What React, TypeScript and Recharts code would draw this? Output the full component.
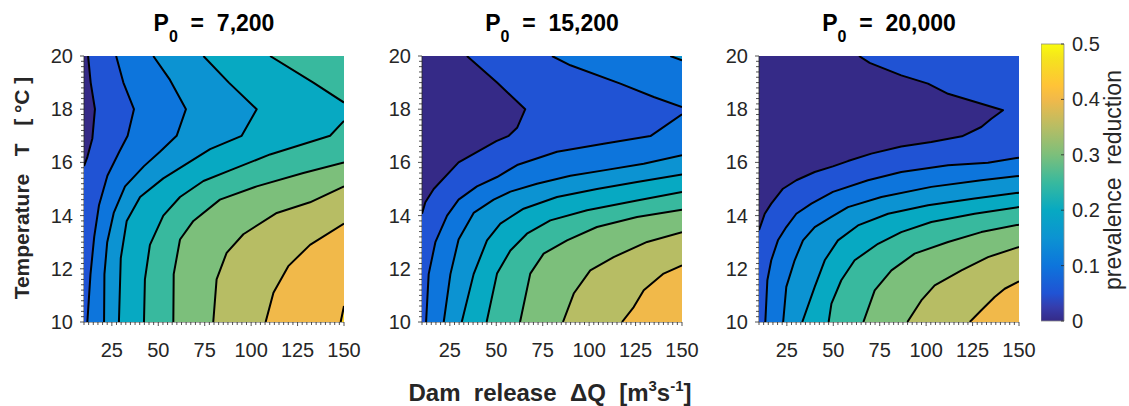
import { ScatterChart, Scatter, XAxis, YAxis, CartesianGrid, BarChart, Bar } from 'recharts'

// contour levels 0, 0.05 ... 0.45 and the parula colour of each filled band
const LEVELS = [0, 0.05, 0.1, 0.15, 0.2, 0.25, 0.3, 0.35, 0.4, 0.45]
const BAND_COLORS = ['#352a87', '#2053d4', '#0d75dc', '#0c93d2', '#07a9c2', '#38b99e', '#7cbf7b', '#b7bd64', '#f1b94a', '#fad32a']
const PARULA_STOPS = [
  ['0', '#352a87'], ['0.05', '#353dad'], ['0.1', '#2053d4'], ['0.2', '#0d75dc'], ['0.3', '#0c93d2'],
  ['0.4', '#07a9c2'], ['0.5', '#38b99e'], ['0.6', '#7cbf7b'], ['0.7', '#b7bd64'], ['0.8', '#f1b94a'],
  ['0.85', '#ffc337'], ['0.9', '#fad32a'], ['0.95', '#f5e41d'], ['1', '#f9fb0e'],
]

const TITLES = ['7,200', '15,200', '20,000']
const X_TICKS = [25, 50, 75, 100, 125, 150]
const Y_TICKS = [10, 12, 14, 16, 18, 20]
const CB_TICKS = [0, 0.1, 0.2, 0.3, 0.4, 0.5]
const X_DOMAIN = [10, 150]
const Y_DOMAIN = [10, 20]

// minor ticks (MATLAB style)
const X_MINOR = Array.from({ length: 57 }, (_, i) => 10 + i * 2.5)
const Y_MINOR = Array.from({ length: 51 }, (_, i) => Math.round((10 + i * 0.2) * 10) / 10)

type Piece = { lv: number; pts: number[][] }

// contour lines: [dam release ΔQ, temperature T]
// every line is ordered so that the higher values lie on its left
const P1_PIECES: Piece[] = [
  { lv: 1, pts: [[12.2, 20], [13.6, 19], [15.9, 18], [14.5, 16.9], [11.8, 16.2], [10, 15.86]] },
  { lv: 2, pts: [[27.3, 20], [31.2, 19], [36.9, 18], [33.5, 17], [29, 16.4], [22.6, 15.5], [18.1, 14.4], [15.5, 13.2], [13.5, 11.8], [11.8, 10]] },
  { lv: 3, pts: [[47.3, 20], [56.3, 19.1], [64.9, 18], [59.9, 17], [50.9, 16.4], [42.3, 15.86], [32.1, 15.1], [26, 14.1], [22.5, 13], [21, 11.8], [20.8, 10]] },
  { lv: 4, pts: [[74.3, 20], [88, 19], [103, 18], [94.9, 17], [77.9, 16.5], [52.7, 15.4], [40.2, 14.7], [33, 13.8], [29.8, 12.4], [28.8, 10]] },
  { lv: 5, pts: [[110.2, 20], [133.5, 19], [150, 18.25]] },
  { lv: 5, pts: [[150, 17.56], [142.5, 17], [110.2, 16.3], [88.6, 15.7], [74.3, 15.3], [61.7, 14.7], [52.7, 14], [45.5, 12.9], [42.8, 11.6], [42.3, 10]] },
  { lv: 6, pts: [[150, 16], [128.1, 15.6], [103, 15.1], [83.2, 14.6], [68.9, 13.8], [61.7, 13.1], [58.3, 11.8], [58.1, 10]] },
  { lv: 7, pts: [[150, 15.1], [131.7, 14.5], [113.8, 14.1], [95.8, 13.3], [86.8, 12.6], [81.4, 11.6], [79.6, 10]] },
  { lv: 8, pts: [[150, 13.7], [131.7, 12.9], [120, 12.1], [112, 11.1], [107.8, 10]] },
  { lv: 9, pts: [[150, 10.6], [148.2, 10]] },
]

const P2_PIECES: Piece[] = [
  { lv: 1, pts: [[34.2, 20], [50.4, 19], [65.6, 18], [61.2, 17.3], [56.7, 17], [50, 16.8], [29.7, 16], [16.3, 15], [11.8, 14.5], [10, 14.07]] },
  { lv: 2, pts: [[80, 20], [89.9, 19.65], [116.8, 18.96], [134.8, 18.46], [150, 18.08]] },
  { lv: 2, pts: [[150, 17.81], [133, 16.99], [107.8, 16.7], [82.7, 16.4], [61.2, 15.9], [50.4, 15.45], [39.6, 15.1], [29.7, 14.6], [23.5, 14], [17.2, 13], [13.6, 11.8], [12.2, 10]] },
  { lv: 3, pts: [[143.7, 20], [150, 19.84]] },
  { lv: 3, pts: [[150, 16.27], [129.4, 15.95], [107.8, 15.7], [89.9, 15.5], [71.9, 15.2], [57.6, 14.9], [48.6, 14.6], [37.8, 14.1], [29.7, 13.1], [25.3, 11.8], [21.7, 10]] },
  { lv: 4, pts: [[150, 15.55], [125.8, 15.26], [104.2, 15], [82.7, 14.7], [64.7, 14.26], [52.2, 13.7], [45, 13.07], [37.8, 11.8], [31.4, 10]] },
  { lv: 5, pts: [[150, 14.89], [125.8, 14.57], [98.9, 14.2], [79.1, 13.82], [66.5, 13.32], [57.6, 12.69], [50.4, 11.82], [44.8, 10]] },
  { lv: 6, pts: [[150, 14.22], [125.8, 13.95], [104.2, 13.57], [88.1, 13.07], [75.5, 12.57], [68.3, 11.82], [62.8, 10]] },
  { lv: 7, pts: [[150, 13.38], [131.2, 13.01], [113.2, 12.44], [100.6, 11.94], [91.7, 11.07], [85.9, 10]] },
  { lv: 8, pts: [[150, 12.13], [140.1, 11.82], [129.4, 11.19], [124, 10.56], [117.7, 10]] },
]

const P3_PIECES: Piece[] = [
  { lv: 1, pts: [[63.85, 20], [69.6, 19.74], [86.6, 19.27], [101, 18.96], [111.8, 18.58], [141.4, 17.96], [135.1, 17.64], [129.7, 17.33], [119.3, 16.98], [102.8, 16.77], [86.6, 16.6], [70.5, 16.33], [57.9, 16.05], [49.8, 15.85], [40, 15.64], [30.1, 15.33], [22.9, 15.01], [16.6, 14.45], [13.1, 14.07], [10, 13.45]] },
  { lv: 2, pts: [[150, 16.18], [133.3, 15.99], [111.8, 15.89], [86.6, 15.64], [68.7, 15.33], [49.8, 14.89], [38.2, 14.45], [30.1, 14.07], [24.7, 13.57], [20.2, 13.07], [16.6, 12.32], [14.5, 11.57], [13.4, 10]] },
  { lv: 3, pts: [[150, 15.49], [129.7, 15.33], [102.8, 15.08], [75.9, 14.7], [57.9, 14.32], [49, 13.95], [40, 13.57], [33.7, 13.07], [29.2, 12.32], [24.7, 11.32], [23, 10]] },
  { lv: 4, pts: [[150, 14.86], [126.1, 14.64], [101, 14.39], [79.5, 14.07], [63.3, 13.63], [52.5, 13.07], [45.4, 12.32], [40, 11.32], [33.3, 10]] },
  { lv: 5, pts: [[150, 14.32], [126.1, 14.07], [102.8, 13.76], [86.6, 13.38], [74.1, 12.94], [61.5, 12.32], [54.3, 11.57], [49, 10.69], [47.5, 10]] },
  { lv: 6, pts: [[150, 13.66], [129.7, 13.38], [111.8, 13.01], [93.8, 12.57], [81.3, 11.94], [72.3, 11.19], [66.2, 10]] },
  { lv: 7, pts: [[150, 12.82], [133.3, 12.44], [119, 11.94], [104.6, 11.38], [97.4, 10.81], [89.9, 10]] },
  { lv: 8, pts: [[150, 11.53], [142.3, 11.25], [136.9, 10.94], [129.7, 10.44], [123.5, 10]] },
]

const PANELS = [P1_PIECES, P2_PIECES, P3_PIECES]
const PANEL_LEFT = [84, 422, 759] // pixel left of each plot area
const PLOT_TOP = 56
const PLOT_W = 260
const PLOT_H = 266

const FONT = '"Liberation Sans", Arial, Helvetica, sans-serif'
const INK = '#262626'
const TICK_FONT = 20

// position of a point on the domain border, walking counter-clockwise from top-left
function borderPos([x, y]: number[]) {
  const e = 0.01
  if (Math.abs(x - X_DOMAIN[0]) < e) return (Y_DOMAIN[1] - y) / (Y_DOMAIN[1] - Y_DOMAIN[0])
  if (Math.abs(y - Y_DOMAIN[0]) < e) return 1 + (x - X_DOMAIN[0]) / (X_DOMAIN[1] - X_DOMAIN[0])
  if (Math.abs(x - X_DOMAIN[1]) < e) return 2 + (y - Y_DOMAIN[0]) / (Y_DOMAIN[1] - Y_DOMAIN[0])
  return 3 + (X_DOMAIN[1] - x) / (X_DOMAIN[1] - X_DOMAIN[0])
}

const CORNERS = [
  [X_DOMAIN[0], Y_DOMAIN[1]],
  [X_DOMAIN[0], Y_DOMAIN[0]],
  [X_DOMAIN[1], Y_DOMAIN[0]],
  [X_DOMAIN[1], Y_DOMAIN[1]],
]

// close a contour into the region above its level, along the plot border
function closeRegion(pts: number[][]) {
  const sEnd = borderPos(pts[pts.length - 1])
  let sStart = borderPos(pts[0])
  if (sStart <= sEnd) sStart += 4
  const out = [...pts]
  for (let k = Math.floor(sEnd) + 1; k < sStart; k++) out.push(CORNERS[k % 4])
  return out
}

const toXY = (pts: number[][]) => pts.map(([x, y]) => ({ x, y }))
const NoDot = () => <g />

const XTick = (props: any) => {
  const { x, y, payload } = props
  const v = payload.value
  const major = X_TICKS.includes(v)
  return (
    <g>
      <line x1={x} x2={x} y1={y} y2={y + (major ? 4 : 3)} stroke={INK} strokeWidth={0.8} />
      {major && (
        <text x={x} y={y + 28} textAnchor="middle" dominantBaseline="central" fontSize={TICK_FONT} fill={INK} fontFamily={FONT}>
          {v}
        </text>
      )}
    </g>
  )
}

const YTick = (props: any) => {
  const { x, y, payload } = props
  const v = payload.value
  const major = Y_TICKS.includes(v)
  return (
    <g>
      <line x1={x} x2={x - (major ? 4 : 3)} y1={y} y2={y} stroke={INK} strokeWidth={0.8} />
      {major && (
        <text x={x - 11} y={y} textAnchor="end" dominantBaseline="central" fontSize={TICK_FONT} fill={INK} fontFamily={FONT}>
          {v}
        </text>
      )}
    </g>
  )
}

const CbTick = (props: any) => {
  const { x, y, payload } = props
  return (
    <g>
      <line x1={x} x2={x - 3} y1={y} y2={y} stroke={INK} strokeWidth={0.8} />
      <text x={x + 8} y={y} textAnchor="start" dominantBaseline="central" fontSize={TICK_FONT} fill={INK} fontFamily={FONT}>
        {payload.value === 0 ? '0' : payload.value.toFixed(1)}
      </text>
    </g>
  )
}

function Panel({ pieces, left }: { pieces: Piece[]; left: number }) {
  return (
    <div style={{ position: 'absolute', left: left - 44, top: PLOT_TOP - 10 }}>
      <ScatterChart width={44 + PLOT_W + 26} height={10 + PLOT_H + 40} margin={{ top: 10, right: 26, bottom: 0, left: 0 }}>
        <CartesianGrid fill={BAND_COLORS[0]} fillOpacity={1} horizontal={false} vertical={false} stroke="none" />
        <XAxis
          type="number" dataKey="x" domain={X_DOMAIN} allowDataOverflow
          ticks={X_MINOR} interval={0} tick={<XTick />} tickLine={false} tickSize={0} tickMargin={0}
          height={40} axisLine={{ stroke: INK, strokeWidth: 0.8 }}
        />
        <YAxis
          type="number" dataKey="y" domain={Y_DOMAIN} allowDataOverflow
          ticks={Y_MINOR} interval={0} tick={<YTick />} tickLine={false} tickSize={0} tickMargin={0}
          width={44} axisLine={{ stroke: INK, strokeWidth: 0.8 }}
        />
        {pieces.map((p, i) => (
          <Scatter
            key={'fill' + i}
            data={toXY(closeRegion(p.pts))}
            line={{ fill: BAND_COLORS[p.lv], stroke: 'none' }}
            lineJointType="linear"
            shape={NoDot}
            isAnimationActive={false}
          />
        ))}
        {pieces.map((p, i) => (
          <Scatter
            key={'line' + i}
            data={toXY(p.pts)}
            line={{ stroke: '#000', strokeWidth: 2, fill: 'none', strokeLinejoin: 'round' }}
            lineJointType="linear"
            shape={NoDot}
            isAnimationActive={false}
          />
        ))}
      </ScatterChart>
    </div>
  )
}

const CB_DATA = [{ k: 'cb', v: 0.5 }]

function ColorBar() {
  return (
    <div style={{ position: 'absolute', left: 1041, top: 34 }}>
      <BarChart width={23 + 60} height={297} data={CB_DATA} margin={{ top: 10, right: 0, bottom: 10, left: 0 }} barCategoryGap={0}>
        <defs>
          <linearGradient id="parula" x1="0" y1="1" x2="0" y2="0">
            {PARULA_STOPS.map(([o, c]) => (
              <stop key={o} offset={o} stopColor={c} />
            ))}
          </linearGradient>
        </defs>
        <XAxis dataKey="k" hide />
        <YAxis
          orientation="right" type="number" domain={[0, 0.5]} ticks={CB_TICKS} interval={0}
          width={60} axisLine={false} tickLine={false} tickSize={0} tickMargin={0} tick={<CbTick />}
        />
        <Bar dataKey="v" fill="url(#parula)" stroke="#8c8c8c" strokeWidth={0.8} isAnimationActive={false} />
      </BarChart>
    </div>
  )
}

const label = (extra: React.CSSProperties): React.CSSProperties => ({
  position: 'absolute',
  fontFamily: FONT,
  color: INK,
  whiteSpace: 'pre',
  textAlign: 'center',
  ...extra,
})

const sup: React.CSSProperties = { fontSize: 15, position: 'relative', top: -10 }

export default function App() {
  return (
    <div style={{ position: 'absolute', left: 0, top: 0, width: 1129, height: 406, background: '#fff', overflow: 'hidden' }}>
      {PANELS.map((pieces, i) => (
        <Panel key={i} pieces={pieces} left={PANEL_LEFT[i]} />
      ))}
      {TITLES.map((t, i) => (
        <div
          key={t}
          style={label({ left: PANEL_LEFT[i] + PLOT_W / 2 - 120, top: 12, width: 240, fontSize: 23, lineHeight: '23px', fontWeight: 700, color: '#000' })}
        >
          P<span style={{ fontSize: 16, position: 'relative', top: 11 }}>0</span>{'  =  ' + t}
        </div>
      ))}
      <ColorBar />
      <div
        style={label({ left: 22 - 150, top: 188 - 12, width: 300, height: 24, fontSize: 21, lineHeight: '24px', fontWeight: 700, transform: 'rotate(-90deg)' })}
      >
        {'Temperature   T   [ °C ]'}
      </div>
      <div style={label({ left: 350, top: 381, width: 400, fontSize: 24, lineHeight: '24px', fontWeight: 700 })}>
        {'Dam  release  ΔQ  [m'}
        <span style={sup}>3</span>
        {'s'}
        <span style={sup}>-1</span>
        {']'}
      </div>
      <div
        style={label({ left: 1113 - 150, top: 180 - 12, width: 300, height: 24, fontSize: 23, lineHeight: '24px', transform: 'rotate(-90deg)' })}
      >
        {'prevalence  reduction'}
      </div>
    </div>
  )
}
